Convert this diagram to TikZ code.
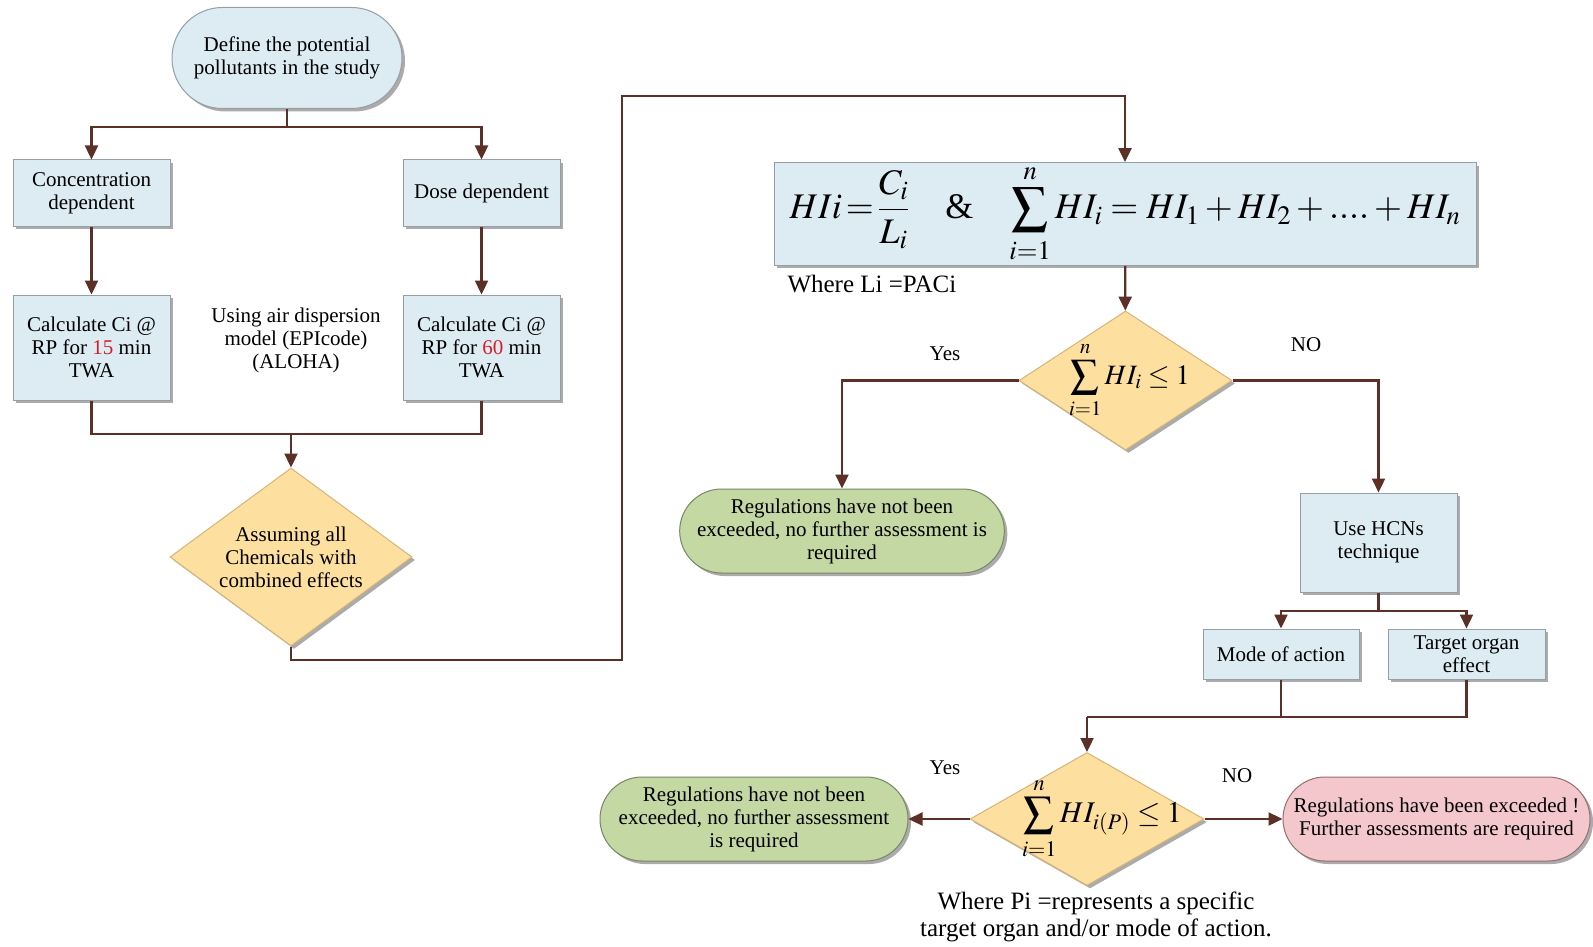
\documentclass[tikz,border=0pt]{standalone}
\usepackage{mathptmx}
\usepackage{fontspec}
\setmainfont{Liberation Serif}
\usetikzlibrary{arrows.meta,shapes.geometric,shapes.misc,shadows}

\definecolor{boxblue}{RGB}{221,236,243}
\definecolor{boxedge}{RGB}{150,158,166}
\definecolor{decfill}{RGB}{253,224,160}
\definecolor{decedge}{RGB}{214,180,120}
\definecolor{okfill}{RGB}{196,216,164}
\definecolor{okedge}{RGB}{120,135,100}
\definecolor{badfill}{RGB}{243,199,203}
\definecolor{badedge}{RGB}{150,110,115}
\definecolor{flow}{RGB}{92,48,38}
\definecolor{hl}{RGB}{215,30,40}

% summation with a little air around its limits
\newcommand{\airsum}[2]{\sum_{\rule{0pt}{0.6em}#1}^{#2\rule[-0.1em]{0pt}{0pt}}}

\tikzset{
  txt/.style={font=\fontsize{21}{23}\selectfont, align=center},
  bigtxt/.style={font=\fontsize{25}{26.5}\selectfont, align=center},
  base/.style={txt, line width=1pt,
    drop shadow={shadow xshift=3pt, shadow yshift=-3pt, fill=black!55, opacity=.6}},
  procbox/.style={base, rectangle, draw=boxedge, fill=boxblue, inner sep=2pt},
  termbox/.style={base, rounded rectangle, inner sep=2pt},
  startbox/.style={termbox, draw=boxedge, fill=boxblue},
  okbox/.style={termbox, draw=okedge, fill=okfill},
  badbox/.style={termbox, draw=badedge, fill=badfill},
  decbox/.style={base, diamond, draw=decedge, fill=decfill, inner sep=0pt},
  link/.style={draw=flow, line width=2.3pt},
  arr/.style={link, -{Triangle[length=14pt,width=13pt]}},
}

\begin{document}
\begin{tikzpicture}[x=1pt,y=-1pt]
  \fill[white] (0,0) rectangle (1593,947);
  \path[use as bounding box] (0,0) rectangle (1593,947);

  % left branch: pollutants and exposure calculations
  \node[startbox, minimum width=234pt, minimum height=101pt] (def) at (287,58)
    {Define the potential\\pollutants in the study};
  \node[procbox, minimum width=157pt, minimum height=66pt] (conc) at (91.5,193)
    {Concentration\\dependent};
  \node[procbox, minimum width=157pt, minimum height=66pt] (dose) at (481.5,193)
    {Dose dependent};
  \node[procbox, minimum width=157pt, minimum height=105pt] (calc1) at (91.5,347.5)
    {Calculate Ci @\\RP for \textcolor{hl}{15} min\\TWA};
  \node[procbox, minimum width=157pt, minimum height=105pt] (calc2) at (481.5,347.5)
    {Calculate Ci @\\RP for \textcolor{hl}{60} min\\TWA};
  \node[txt] (model) at (296,340)
    {Using air dispersion\\model (EPIcode)\\(ALOHA)};
  \node[decbox, minimum width=242pt, minimum height=178pt,
        label={[name=assumetxt, txt]center:Assuming all\\Chemicals with\\combined effects}]
    (assume) at (291,557) {};

  % hazard index
  \node[procbox, minimum width=702pt, minimum height=100pt,
        font=\fontsize{36}{40}\selectfont] (hi) at (1125,214)
    {$\displaystyle HIi\!=\!\frac{C_i}{L_i}$\quad\&\quad
     $\displaystyle\airsum{i=1}{n} HI_i = HI_1 + HI_2 + ....+ HI_n$};
  \node[bigtxt, anchor=west] (whereL) at (784,284) {Where Li =PACi};

  \node[decbox, minimum width=213pt, minimum height=139pt,
        label={[name=dec1txt, font=\fontsize{28}{30}\selectfont, xshift=4pt]center:%
          $\displaystyle\airsum{i=1}{n} HI_i \le 1$}] (dec1) at (1125.5,380.5) {};
  \node[txt] (yes1) at (945,354) {Yes};
  \node[txt] (no1) at (1306,345) {NO};

  \node[okbox, minimum width=310pt, minimum height=84pt] (ok1) at (842,531)
    {Regulations have not been\\exceeded, no further assessment is\\required};

  \node[procbox, minimum width=157pt, minimum height=99pt] (hcn) at (1378.5,542.5)
    {Use HCNs\\technique};
  \node[procbox, minimum width=156pt, minimum height=50pt] (mode) at (1281,654)
    {Mode of action};
  \node[procbox, minimum width=157pt, minimum height=50pt] (target) at (1466.5,654)
    {Target organ\\effect};

  \node[decbox, minimum width=234pt, minimum height=133pt,
        label={[name=dec2txt, font=\fontsize{30}{32}\selectfont, xshift=15pt]center:%
          $\displaystyle\airsum{i=1}{n} HI_{i(P)} \le 1$}] (dec2) at (1087,819) {};
  \node[txt] (yes2) at (945,768) {Yes};
  \node[txt] (no2) at (1237,776) {NO};

  \node[okbox, minimum width=312pt, minimum height=84pt] (ok2) at (754,819)
    {Regulations have not been\\exceeded, no further assessment\\is required};
  \node[badbox, minimum width=311pt, minimum height=84pt] (bad) at (1436.5,819)
    {Regulations have been exceeded !\\Further assessments are required};
  \node[bigtxt] (whereP) at (1096,917)
    {Where Pi =represents a specific\\target organ and/or mode of action.};

  % connectors
  \coordinate (j1) at (287,127);
  \draw[link] (def) -- (j1);
  \draw[arr] (j1) -| (conc.north);
  \draw[arr] (j1) -| (dose.north);
  \draw[arr] (conc) -- (calc1);
  \draw[arr] (dose) -- (calc2);

  \coordinate (j2) at (291,434);
  \draw[link] (calc1.south) |- (j2);
  \draw[link] (calc2.south) |- (j2);
  \draw[arr] (j2) -- (assume.north);

  \coordinate (p1) at (622,660);
  \coordinate (p2) at (622,96);
  \draw[arr] (assume.south) |- (p1) -- (p2) -| (hi.north);

  \draw[arr] (hi) -- (dec1);
  \draw[arr] (dec1.west) -| (ok1.north);
  \draw[arr] (dec1.east) -| (hcn.north);

  \coordinate (j3) at (1378.5,611);
  \draw[link] (hcn) -- (j3);
  \draw[arr] (j3) -| (mode.north);
  \draw[arr] (j3) -| (target.north);

  \coordinate (j4) at (1087,717);
  \draw[link] (mode.south) |- (j4);
  \draw[link] (target.south) |- (j4);
  \draw[arr] (j4) -- (dec2.north);

  \draw[arr] (dec2.west) -- (ok2.east);
  \draw[arr] (dec2.east) -- (bad.west);
\end{tikzpicture}
\end{document}
